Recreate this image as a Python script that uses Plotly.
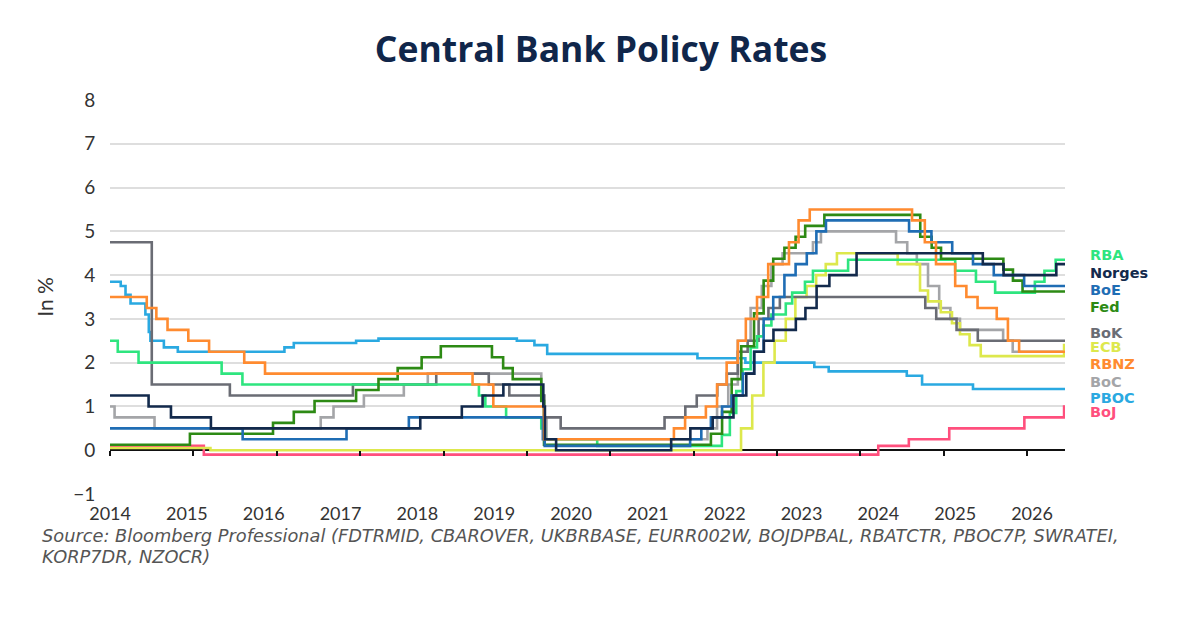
import plotly.graph_objects as go
import pandas as pd

END = "2026-06-15"
START = "2015-01-01"

# ---- data: (date, rate) step points ----
fed_d = ["2015-01-01","2015-12-17","2016-12-15","2017-03-16","2017-06-15","2017-12-14","2018-03-22","2018-06-14","2018-09-27","2018-12-20","2019-08-01","2019-09-19","2019-10-31","2020-03-04","2020-03-16","2022-03-17","2022-05-05","2022-06-16","2022-07-28","2022-09-22","2022-11-03","2022-12-15","2023-02-02","2023-03-23","2023-05-04","2023-07-27","2024-09-19","2024-11-08","2024-12-19","2025-09-18","2025-10-30","2025-12-11",END]
fed_v = [0.125,0.375,0.625,0.875,1.125,1.375,1.625,1.875,2.125,2.375,2.125,1.875,1.625,1.125,0.125,0.375,0.875,1.625,2.375,3.125,3.875,4.375,4.625,4.875,5.125,5.375,4.875,4.625,4.375,4.125,3.875,3.625,3.625]

rba_d = ["2015-01-01","2015-02-04","2015-05-06","2016-05-04","2016-08-03","2019-06-05","2019-07-03","2019-10-02","2020-03-04","2020-03-20","2020-11-04","2022-05-04","2022-06-08","2022-07-06","2022-08-03","2022-09-07","2022-10-05","2022-11-02","2022-12-07","2023-02-08","2023-03-08","2023-05-03","2023-06-07","2023-11-08","2025-02-19","2025-05-21","2025-08-13","2026-02-03","2026-03-17","2026-05-05",END]
rba_v = [2.5,2.25,2.0,1.75,1.5,1.25,1.0,0.75,0.5,0.25,0.1,0.35,0.85,1.35,1.85,2.35,2.6,2.85,3.1,3.35,3.6,3.85,4.1,4.35,4.1,3.85,3.6,3.85,4.1,4.35,4.35]

boe_d = ["2015-01-01","2016-08-04","2017-11-02","2018-08-02","2020-03-11","2020-03-19","2021-12-16","2022-02-03","2022-03-17","2022-05-05","2022-06-16","2022-08-04","2022-09-22","2022-11-03","2022-12-15","2023-02-02","2023-03-23","2023-05-11","2023-06-22","2023-08-03","2024-08-01","2024-11-07","2025-02-06","2025-05-08","2025-08-07","2025-12-18",END]
boe_v = [0.5,0.25,0.5,0.75,0.25,0.1,0.25,0.5,0.75,1.0,1.25,1.75,2.25,3.0,3.5,4.0,4.25,4.5,5.0,5.25,5.0,4.75,4.5,4.25,4.0,3.75,3.75]

ecb_d = ["2015-01-01","2016-03-16","2022-07-27","2022-09-14","2022-11-02","2022-12-21","2023-02-08","2023-03-22","2023-05-10","2023-06-21","2023-08-02","2023-09-20","2024-06-12","2024-09-18","2024-10-23","2024-12-18","2025-02-05","2025-03-12","2025-04-23","2025-06-11","2026-06-11",END]
ecb_v = [0.05,0.0,0.5,1.25,2.0,2.5,3.0,3.5,3.75,4.0,4.25,4.5,4.25,3.65,3.4,3.15,2.9,2.65,2.4,2.15,2.4,2.4]

boj_d = ["2015-01-01","2016-02-16","2024-03-19","2024-07-31","2025-01-24","2025-12-19","2026-06-11",END]
boj_v = [0.1,-0.1,0.1,0.25,0.5,0.75,1.0,1.0]

pboc_d = ["2015-01-01","2015-02-17","2015-03-10","2015-04-01","2015-06-05","2015-06-20","2015-06-27","2015-08-25","2015-10-25","2017-02-03","2017-03-16","2017-12-14","2018-03-22","2019-11-18","2020-02-03","2020-03-30","2022-01-17","2022-08-15","2023-06-13","2023-08-15","2024-07-22","2024-09-27","2025-05-08",END]
pboc_v = [3.85,3.75,3.55,3.35,3.1,2.7,2.5,2.35,2.25,2.35,2.45,2.5,2.55,2.5,2.4,2.2,2.1,2.0,1.9,1.8,1.7,1.5,1.4,1.4]

norges_d = ["2015-01-01","2015-06-19","2015-09-25","2016-03-18","2018-09-21","2019-03-22","2019-06-21","2019-09-20","2020-03-13","2020-03-20","2020-05-08","2021-09-24","2021-12-17","2022-03-25","2022-06-24","2022-08-19","2022-09-23","2022-11-04","2022-12-16","2023-03-24","2023-05-05","2023-06-23","2023-08-18","2023-12-15","2025-06-20","2025-09-19","2026-05-08",END]
norges_v = [1.25,1.0,0.75,0.5,0.75,1.0,1.25,1.5,1.0,0.25,0.0,0.25,0.5,0.75,1.25,1.75,2.25,2.5,2.75,3.0,3.25,3.75,4.0,4.5,4.25,4.0,4.25,4.25]

bok_d = ["2015-01-01","2015-07-03","2016-06-09","2017-11-30","2018-11-30","2019-07-18","2019-10-16","2020-03-17","2020-05-28","2021-08-26","2021-11-25","2022-01-14","2022-04-14","2022-05-26","2022-07-13","2022-08-25","2022-10-12","2022-11-24","2023-01-13","2024-10-11","2024-11-28","2025-02-25","2025-05-29",END]
bok_v = [4.75,1.5,1.25,1.5,1.75,1.5,1.25,0.75,0.5,0.75,1.0,1.25,1.5,1.75,2.25,2.5,3.0,3.25,3.5,3.25,3.0,2.75,2.5,2.5]

boc_d = ["2015-01-01","2015-01-21","2015-07-15","2017-07-12","2017-09-06","2018-01-17","2018-07-11","2018-10-24","2020-03-04","2020-03-16","2020-03-27","2022-03-02","2022-04-13","2022-06-01","2022-07-13","2022-09-07","2022-10-26","2022-12-07","2023-01-25","2023-06-07","2023-07-12","2024-06-05","2024-07-24","2024-09-04","2024-10-23","2024-12-11","2025-01-29","2025-03-12","2025-09-17","2025-10-29",END]
boc_v = [1.0,0.75,0.5,0.75,1.0,1.25,1.5,1.75,1.25,0.75,0.25,0.5,1.0,1.5,2.5,3.25,3.75,4.25,4.5,4.75,5.0,4.75,4.5,4.25,3.75,3.25,3.0,2.75,2.5,2.25,2.25]

rbnz_d = ["2015-01-01","2015-06-11","2015-07-23","2015-09-10","2015-12-10","2016-03-10","2016-08-11","2016-11-10","2019-05-08","2019-08-07","2020-03-16","2021-10-06","2021-11-24","2022-02-23","2022-04-13","2022-05-25","2022-07-13","2022-08-17","2022-10-05","2022-11-23","2023-02-22","2023-04-05","2023-05-24","2024-08-14","2024-10-09","2024-11-27","2025-02-19","2025-04-09","2025-05-28","2025-08-20","2025-10-08","2025-11-26",END]
rbnz_v = [3.5,3.25,3.0,2.75,2.5,2.25,2.0,1.75,1.5,1.0,0.25,0.5,0.75,1.0,1.5,2.0,2.5,3.0,3.5,4.25,4.75,5.25,5.5,5.25,4.75,4.25,3.75,3.5,3.25,3.0,2.5,2.25,2.25]

year_ticks = [f"{y}-01-01" for y in range(2015, 2027)]
label_text = [str(y) for y in range(2014, 2027)]

series = [
    ("BoJ", boj_d, boj_v, "#ff4f7d"),
    ("PBOC", pboc_d, pboc_v, "#2aa9e1"),
    ("BoC", boc_d, boc_v, "#a4a5a8"),
    ("ECB", ecb_d, ecb_v, "#dde84c"),
    ("BoK", bok_d, bok_v, "#6a6c74"),
    ("RBA", rba_d, rba_v, "#2ee57f"),
    ("Fed", fed_d, fed_v, "#2d8a14"),
    ("BoE", boe_d, boe_v, "#1f6db4"),
    ("RBNZ", rbnz_d, rbnz_v, "#ff8b30"),
    ("Norges", norges_d, norges_v, "#132a4c"),
]

# end-label positions (in axis units, nudged to avoid overlap)
label_pos = {"RBA": 4.46, "Norges": 4.05, "BoE": 3.66, "Fed": 3.28, "BoK": 2.67,
             "ECB": 2.36, "RBNZ": 1.97, "BoC": 1.55, "PBOC": 1.19, "BoJ": 0.87}

fig = go.Figure()
for name, d, v, c in series:
    fig.add_trace(go.Scatter(x=d, y=v, mode="lines", name=name,
                             line=dict(color=c, width=2.6, shape="hv"),
                             showlegend=False, hoverinfo="skip"))
# empty trace so the year-tick axis is rendered
fig.add_trace(go.Scatter(x=[START, END], y=[None, None], xaxis="x2", yaxis="y",
                         mode="lines", showlegend=False, hoverinfo="skip"))

t0 = pd.Timestamp(START)
t1 = pd.Timestamp(END)
span = t1 - t0
frac_step = 76.83 / 955.0
label_vals = [(t0 + span * (i * frac_step) + pd.Timedelta(hours=6)).strftime("%Y-%m-%d %H:%M") for i in range(13)]

FONT = "Lato"
WIDE = "DejaVu Sans"
fig.update_layout(
    width=1200, height=627,
    margin=dict(l=102, r=143, t=91.5, b=140.5),
    paper_bgcolor="white", plot_bgcolor="white",
    title=dict(text="<b>Central Bank Policy Rates</b>", x=593 / 1200, xref="container", xanchor="center",
               y=1 - 42 / 627, yref="container", yanchor="middle",
               font=dict(family="Open Sans", size=35.5, color="#10264a")),
    xaxis=dict(type="date", range=[START, END], tickvals=label_vals, ticktext=label_text,
               showgrid=False, zeroline=False, showline=False,
               ticks="outside", ticklen=3, tickcolor="rgba(0,0,0,0)",
               tickfont=dict(family=FONT, size=18, color="#333333")),
    xaxis2=dict(type="date", range=[START, END], overlaying="x", anchor="free", position=1/9,
                tickvals=year_ticks, showticklabels=False, showgrid=False, zeroline=False,
                showline=False, ticks="outside", ticklen=5, tickwidth=1.5, tickcolor="#111111"),
    yaxis=dict(range=[-1, 8], dtick=1, tick0=0, showgrid=True, gridcolor="#dedede", gridwidth=1.5,
               zeroline=True, zerolinecolor="#111111", zerolinewidth=1.5, showline=False,
               ticks="outside", ticklen=10, tickcolor="rgba(0,0,0,0)",
               tickfont=dict(family=FONT, size=19, color="#333333"),
               title=dict(text="In %", standoff=13, font=dict(family=FONT, size=21, color="#333333"))),
)

for name, d, v, c in series:
    fig.add_annotation(x=1.0238, xref="paper", xanchor="left", y=label_pos[name], yref="y",
                       yanchor="middle", text=f"<b>{name}</b>", showarrow=False,
                       font=dict(family=WIDE, size=14.5, color=c))

src1 = "Source: Bloomberg Professional (FDTRMID, CBAROVER, UKBRBASE, EURR002W, BOJDPBAL, RBATCTR, PBOC7P, SWRATEI,"
src2 = "KORP7DR, NZOCR)"
for txt, py in [(src1, 536), (src2, 557)]:
    fig.add_annotation(x=(40 - 110) / 955.0, xref="paper", y=(494.5 - py) / 395.0, yref="paper",
                       showarrow=False, xanchor="left", yanchor="middle", text=f"<i>{txt}</i>",
                       font=dict(family=WIDE, size=17.8, color="#555555"))

fig.write_html("out.html")
